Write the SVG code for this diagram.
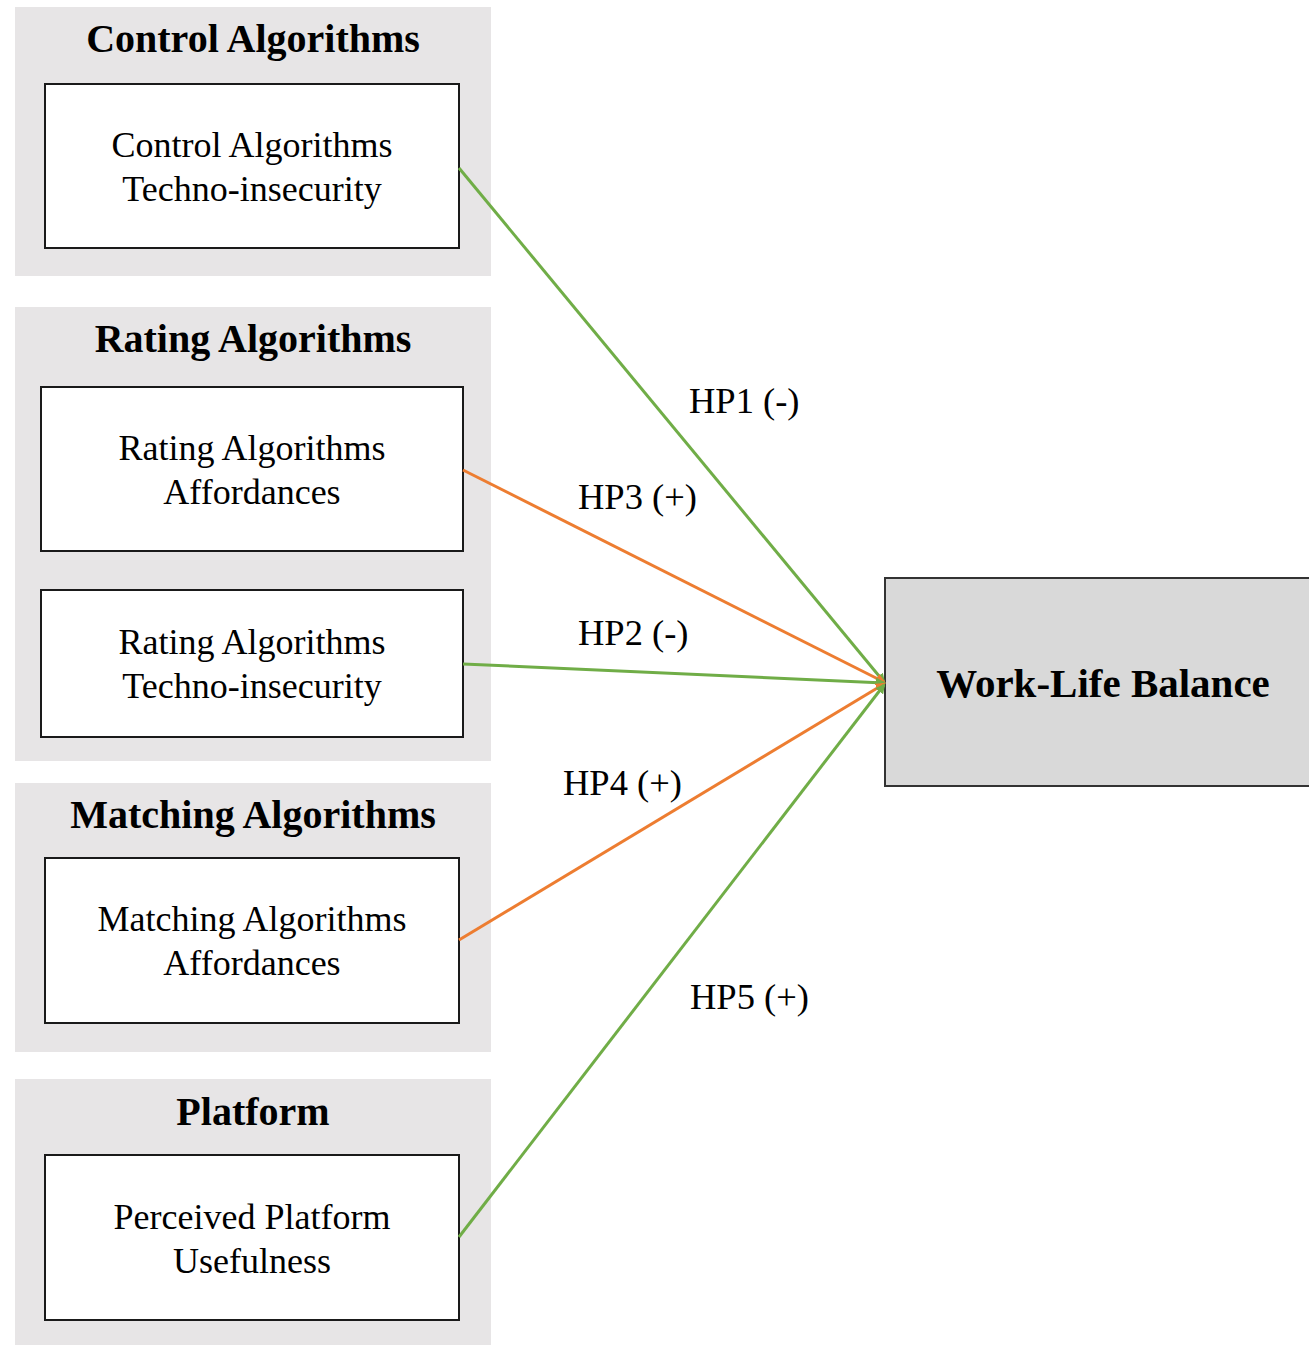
<svg xmlns="http://www.w3.org/2000/svg" width="1309" height="1345" viewBox="0 0 1309 1345">
<style>
.grp{fill:#e7e5e6}
.box{fill:#ffffff;stroke:#1a1a1a;stroke-width:2}
.title{font-family:"Liberation Serif",serif;font-weight:bold;font-size:40px;text-anchor:middle;fill:#000}
.wlb{font-family:"Liberation Serif",serif;font-weight:bold;font-size:41px;text-anchor:middle;fill:#000}
.t{font-family:"Liberation Serif",serif;font-size:36px;text-anchor:middle;fill:#000}
.lbl{font-family:"Liberation Serif",serif;font-size:36.5px;fill:#000}
.g{stroke:#70ad47;stroke-width:3;fill:none}
.o{stroke:#ed7d31;stroke-width:3;fill:none}
</style>
<defs>
<marker id="ag" markerWidth="10" markerHeight="10" refX="8" refY="5" orient="auto" markerUnits="userSpaceOnUse" viewBox="0 0 10 10"><path d="M0,0 L10,5 L0,10 z" fill="#70ad47"/></marker>
<marker id="ao" markerWidth="10" markerHeight="10" refX="8" refY="5" orient="auto" markerUnits="userSpaceOnUse" viewBox="0 0 10 10"><path d="M0,0 L10,5 L0,10 z" fill="#ed7d31"/></marker>
</defs>
<rect width="1309" height="1345" fill="#ffffff"/>
<g id="group-control">
<rect class="grp" x="15" y="7" width="476" height="269"/>
<text class="title" x="253" y="52">Control Algorithms</text>
</g>
<g id="node-control-techno">
<rect class="box" x="45" y="84" width="414" height="164"/>
<text class="t" x="252" y="157">Control Algorithms</text>
<text class="t" x="252" y="201">Techno-insecurity</text>
</g>
<g id="group-rating">
<rect class="grp" x="15" y="307" width="476" height="454"/>
<text class="title" x="253" y="352">Rating Algorithms</text>
</g>
<g id="node-rating-aff">
<rect class="box" x="41" y="387" width="422" height="164"/>
<text class="t" x="252" y="460">Rating Algorithms</text>
<text class="t" x="252" y="504">Affordances</text>
</g>
<g id="node-rating-techno">
<rect class="box" x="41" y="590" width="422" height="147"/>
<text class="t" x="252" y="654">Rating Algorithms</text>
<text class="t" x="252" y="698">Techno-insecurity</text>
</g>
<g id="group-matching">
<rect class="grp" x="15" y="783" width="476" height="269"/>
<text class="title" x="253" y="828">Matching Algorithms</text>
</g>
<g id="node-matching-aff">
<rect class="box" x="45" y="858" width="414" height="165"/>
<text class="t" x="252" y="931">Matching Algorithms</text>
<text class="t" x="252" y="975">Affordances</text>
</g>
<g id="group-platform">
<rect class="grp" x="15" y="1079" width="476" height="266"/>
<text class="title" x="253" y="1125">Platform</text>
</g>
<g id="node-platform-useful">
<rect class="box" x="45" y="1155" width="414" height="165"/>
<text class="t" x="252" y="1229">Perceived Platform</text>
<text class="t" x="252" y="1273">Usefulness</text>
</g>
<g id="node-wlb">
<rect x="885" y="578" width="430" height="208" fill="#d9d9d9" stroke="#333" stroke-width="2"/>
<text class="wlb" x="1103" y="697">Work-Life Balance</text>
</g>
<g id="connectors">
<line class="g" x1="459" y1="168" x2="884" y2="682" marker-end="url(#ag)"/>
<line class="o" x1="463" y1="470" x2="884" y2="682" marker-end="url(#ao)"/>
<line class="g" x1="463" y1="664" x2="884" y2="683" marker-end="url(#ag)"/>
<line class="o" x1="459" y1="940" x2="884" y2="684" marker-end="url(#ao)"/>
<line class="g" x1="459" y1="1237" x2="884" y2="685" marker-end="url(#ag)"/>
<text class="lbl" x="689" y="413">HP1 (-)</text>
<text class="lbl" x="578" y="509">HP3 (+)</text>
<text class="lbl" x="578" y="645">HP2 (-)</text>
<text class="lbl" x="563" y="795">HP4 (+)</text>
<text class="lbl" x="690" y="1009">HP5 (+)</text>
</g>
</svg>
